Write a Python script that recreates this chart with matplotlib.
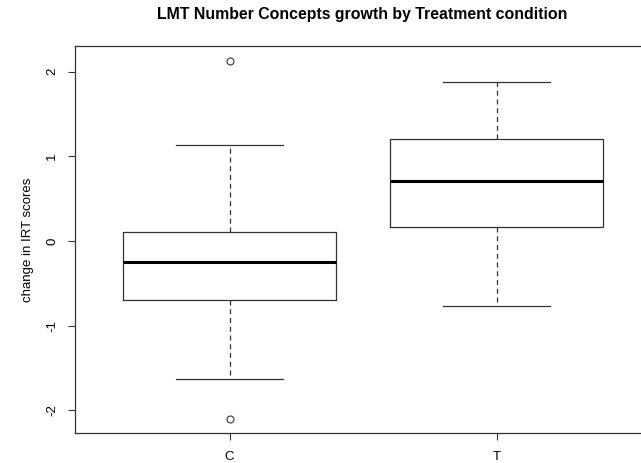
import matplotlib
matplotlib.use("Agg")
import matplotlib.pyplot as plt

plt.rcParams['font.family'] = ['Liberation Sans', 'DejaVu Sans']

# summary values (IRT score change)
groups = ['C', 'T']
whisker_low = [-1.63, -0.77]
quart1 = [-0.70, 0.17]
medians = [-0.25, 0.71]
quart3 = [0.11, 1.21]
whisker_high = [1.13, 1.88]
outliers = [[2.13, -2.10], []]

stats = []
for i, g in enumerate(groups):
    stats.append(dict(label=g, whislo=whisker_low[i], q1=quart1[i], med=medians[i],
                      q3=quart3[i], whishi=whisker_high[i], fliers=outliers[i]))

fig = plt.figure(figsize=(6.41, 4.63), dpi=100)
ax = fig.add_axes([0.1165, 0.0648, 0.8998, 0.8359])

line = '#333333'
ax.bxp(stats, positions=[1, 2], widths=0.8,
       boxprops=dict(color=line, linewidth=0.9),
       whiskerprops=dict(color=line, linewidth=0.9, linestyle=(0, (4, 3))),
       capprops=dict(color=line, linewidth=0.9),
       medianprops=dict(color='black', linewidth=2.2),
       flierprops=dict(marker='o', markersize=5, markerfacecolor='none',
                       markeredgecolor=line, markeredgewidth=0.8))

ax.set_xlim(0.42, 2.58)
ax.set_ylim(-2.268, 2.304)
ax.set_yticks([-2, -1, 0, 1, 2])
ax.set_yticklabels(['-2', '-1', '0', '1', '2'], rotation=90, va='center')
ax.tick_params(axis='both', length=5, width=0.8, color=line, labelsize=9.5)
ax.tick_params(axis='y', pad=7)
ax.tick_params(axis='x', pad=8)
for s in ax.spines.values():
    s.set_color(line)
    s.set_linewidth(0.9)

ax.set_ylabel('change in IRT scores', fontsize=9.5, va='center')
ax.yaxis.set_label_coords(-0.0805, 0.5)

fig.text(362.5 / 641, 1 - 15 / 463, 'LMT Number Concepts growth by Treatment condition',
         ha='center', va='center', fontsize=11.4, fontweight='bold')

fig.savefig('out.png', dpi=100)
